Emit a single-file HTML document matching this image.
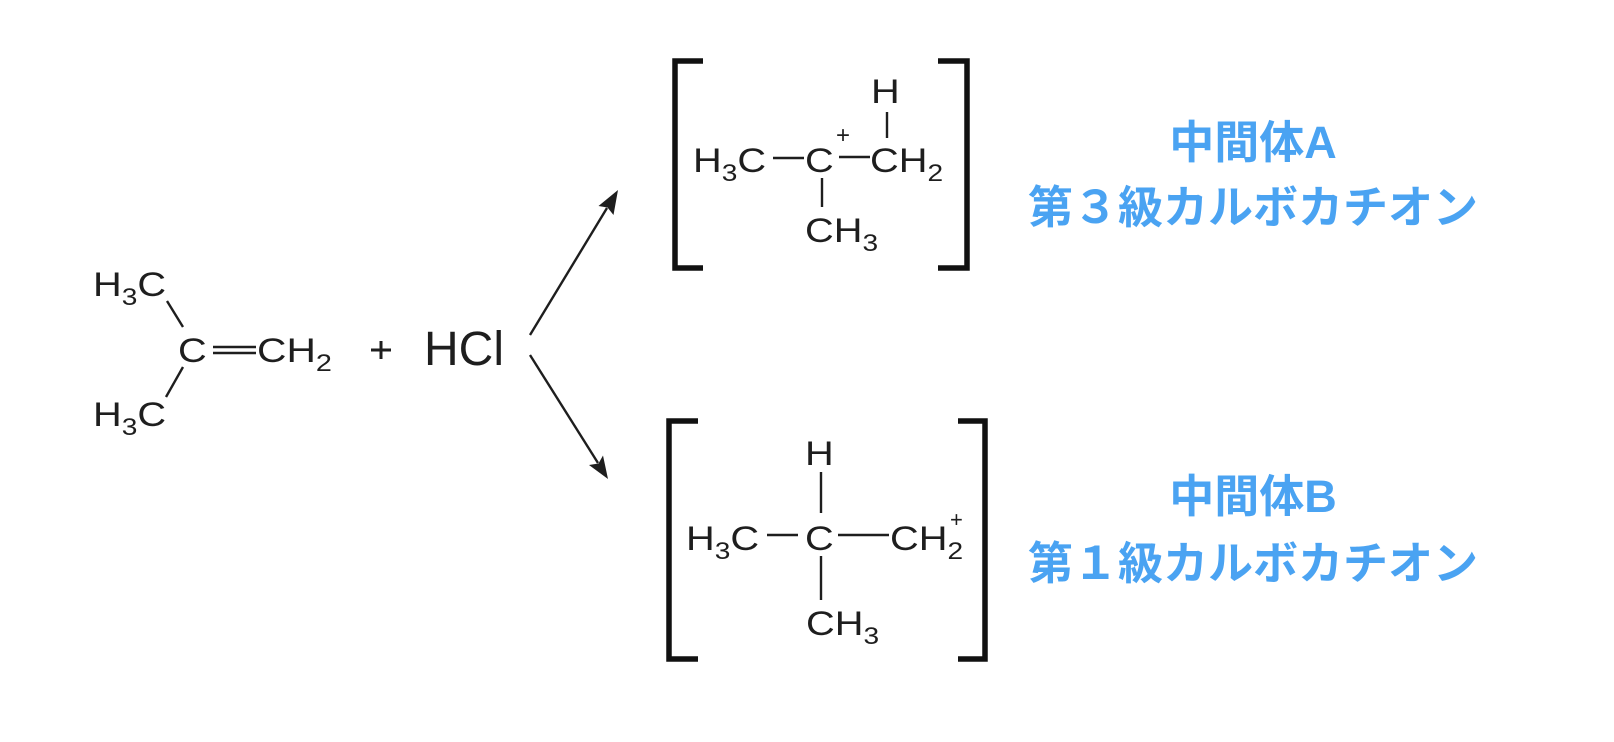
<!DOCTYPE html>
<html>
<head>
<meta charset="utf-8">
<style>
html,body{margin:0;padding:0;background:#fff;}
svg{display:block;}
.c{font-family:"Liberation Sans",Arial,sans-serif;font-size:34px;fill:#1e1e1e;}
.s{font-size:24px;}
.j{font-family:"Liberation Sans","Noto Sans CJK JP",sans-serif;font-weight:bold;font-size:45px;fill:#4aa3f2;}
</style>
</head>
<body>
<svg width="1614" height="742" viewBox="0 0 1614 742" xmlns="http://www.w3.org/2000/svg">
<rect width="1614" height="742" fill="#fff"/>

<!-- Left molecule: isobutylene -->
<g class="c">
  <text transform="translate(93,296) scale(1.17,1)">H<tspan class="s" dy="9">3</tspan><tspan dy="-9">C</tspan></text>
  <text transform="translate(178,362) scale(1.17,1)">C</text>
  <text transform="translate(257,362) scale(1.2,1)">CH<tspan class="s" dy="9">2</tspan></text>
  <text transform="translate(93,426) scale(1.17,1)">H<tspan class="s" dy="9">3</tspan><tspan dy="-9">C</tspan></text>
</g>
<g stroke="#1e1e1e" stroke-width="2.4" fill="none">
  <line x1="167" y1="301" x2="183" y2="327"/>
  <line x1="183" y1="367" x2="166" y2="397"/>
  <line x1="213" y1="347" x2="256" y2="347"/>
  <line x1="213" y1="353" x2="256" y2="353"/>
</g>
<!-- plus -->
<g stroke="#1e1e1e" stroke-width="3">
  <line x1="371" y1="350" x2="391" y2="350"/>
  <line x1="381" y1="341" x2="381" y2="359"/>
</g>
<text x="424" y="365" font-family="Liberation Sans, Arial, sans-serif" font-size="48" fill="#1e1e1e">HCl</text>

<!-- Arrows -->
<g stroke="#1e1e1e" stroke-width="2.4" fill="none">
  <line x1="530" y1="335" x2="607" y2="208"/>
  <line x1="530" y1="355" x2="598" y2="463"/>
</g>
<polygon points="618,190 613.5,215 607.5,207.5 598.5,206" fill="#1e1e1e"/>
<polygon points="608,479 589,465 598.5,463.5 603,455.5" fill="#1e1e1e"/>

<!-- Bracket A -->
<g stroke="#111" stroke-width="5.5" fill="none" stroke-linejoin="miter">
  <path d="M703,61 H675 V268 H703"/>
  <path d="M938,61 H967 V268 H938"/>
</g>
<g class="c">
  <text transform="translate(693,172) scale(1.17,1)">H<tspan class="s" dy="9">3</tspan><tspan dy="-9">C</tspan></text>
  <text transform="translate(805,172) scale(1.17,1)">C</text>
  <text x="836" y="143" font-size="24">+</text>
  <text transform="translate(870,172) scale(1.17,1)">CH<tspan class="s" dy="9">2</tspan></text>
  <text transform="translate(871,103) scale(1.17,1)">H</text>
  <text transform="translate(805,242) scale(1.17,1)">CH<tspan class="s" dy="9">3</tspan></text>
</g>
<g stroke="#1e1e1e" stroke-width="2.4">
  <line x1="773" y1="158" x2="804" y2="158"/>
  <line x1="839" y1="157" x2="870" y2="157"/>
  <line x1="887" y1="112" x2="887" y2="138"/>
  <line x1="822" y1="178" x2="822" y2="207"/>
</g>

<!-- Bracket B -->
<g stroke="#111" stroke-width="5.5" fill="none" stroke-linejoin="miter">
  <path d="M698,421 H669 V659 H698"/>
  <path d="M958,421 H985 V659 H958"/>
</g>
<g class="c">
  <text transform="translate(805,465) scale(1.17,1)">H</text>
  <text transform="translate(686,550) scale(1.17,1)">H<tspan class="s" dy="9">3</tspan><tspan dy="-9">C</tspan></text>
  <text transform="translate(805,550) scale(1.17,1)">C</text>
  <text transform="translate(890,550) scale(1.17,1)">CH<tspan class="s" dy="9">2</tspan></text>
  <text x="950" y="527" font-size="22">+</text>
  <text transform="translate(806,635) scale(1.17,1)">CH<tspan class="s" dy="9">3</tspan></text>
</g>
<g stroke="#1e1e1e" stroke-width="2.4">
  <line x1="821" y1="472" x2="821" y2="513"/>
  <line x1="767" y1="535" x2="798" y2="535"/>
  <line x1="838" y1="535" x2="889" y2="535"/>
  <line x1="821" y1="556" x2="821" y2="600"/>
</g>

<!-- Blue labels -->
<text class="j" x="1253" y="158" text-anchor="middle">中間体A</text>
<text class="j" x="1253" y="223" text-anchor="middle">第３級カルボカチオン</text>
<text class="j" x="1253" y="512" text-anchor="middle">中間体B</text>
<text class="j" x="1253" y="579" text-anchor="middle">第１級カルボカチオン</text>
</svg>
</body>
</html>
